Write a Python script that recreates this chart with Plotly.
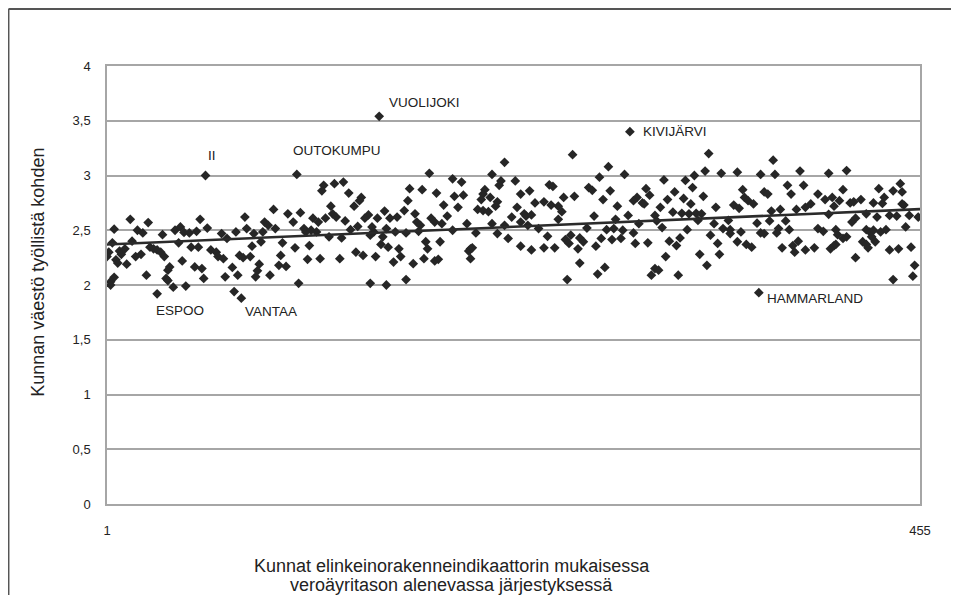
import numpy as np
import plotly.graph_objects as go

# Municipality rank (1..455) and population per employed person
rank = [
    56, 14, 24, 5, 18, 21, 32, 39, 42, 44, 47, 51, 53, 57, 4, 15, 41, 2, 8, 11, 9, 1, 20, 17, 25, 27, 29, 31, 33, 48,
    52, 6, 7, 12, 43, 36, 50, 54, 35, 23, 5, 3, 3, 34, 35, 38, 45, 55, 29,
    107, 78, 94, 102, 109, 105, 89, 91, 95, 73, 79, 83, 88, 65, 68, 111, 112, 59, 62, 63, 66, 75, 77, 81, 82, 87,
    99, 106, 98, 113, 71, 86, 97, 101, 85, 74, 67, 84, 92, 108, 72, 76,
    153, 122, 121, 128, 133, 136, 143, 142, 170, 169, 126, 139, 127, 116, 119, 123, 129, 134, 156, 152, 147, 145,
    159, 163, 167, 173, 141, 137, 149, 157, 150, 118, 115, 125, 132, 148, 155, 162, 168, 114, 154, 158, 164, 140,
    144, 151, 165, 120, 131, 161, 172, 148, 157, 168,
    181, 223, 216, 194, 199, 221, 229, 220, 177, 185, 212, 211, 195, 200, 232, 215, 210, 189, 197, 219, 218, 230,
    208, 211, 214, 191, 182, 227, 174, 176, 184, 188, 202, 216, 223, 232, 175, 194, 207, 219, 225, 179, 187, 180,
    232, 204, 203, 205, 178, 184, 186, 204,
    261, 281, 290, 276, 248, 250, 270, 272, 282, 237, 262, 256, 278, 240, 245, 249, 253, 255, 286, 234, 235, 238,
    253, 273, 285, 236, 242, 269, 280, 284, 247, 260, 257, 265, 277, 283, 288, 259, 267, 238, 245, 251, 264, 274,
    265, 279, 275, 258,
    293, 337, 335, 344, 312, 324, 329, 328, 302, 318, 304, 297, 295, 334, 314, 323, 300, 301, 327, 310, 341, 317,
    292, 307, 322, 326, 330, 333, 298, 308, 331, 340, 289, 295, 311, 325, 345, 349, 296, 303, 315, 321, 319, 338,
    342, 313, 332, 343, 336, 307, 309, 305, 320,
    373, 353, 366, 374, 388, 404, 381, 390, 356, 368, 370, 383, 357, 398, 402, 406, 359, 362, 351, 354, 394, 391,
    372, 377, 386, 404, 348, 364, 371, 380, 349, 355, 366, 376, 382, 398, 401, 375, 368, 353, 358, 361, 378, 387,
    384, 385, 391, 396, 405, 407, 365,
    414, 444, 440, 445, 432, 412, 435, 422, 410, 416, 418, 429, 434, 407, 445, 446, 425, 431, 438, 442, 449, 454,
    419, 417, 447, 408, 409, 425, 427, 429, 433, 436, 414, 412, 428, 408, 423, 425, 426, 430, 438, 443, 450, 419,
    452, 451, 440,
]
value = [
    3.00, 2.60, 2.57, 2.51, 2.50, 2.475, 2.46, 2.50, 2.53, 2.48, 2.475, 2.49, 2.60, 2.52, 2.385, 2.40, 2.385, 2.30,
    2.31, 2.33, 2.28, 2.26, 2.28, 2.26, 2.345, 2.33, 2.32, 2.30, 2.26, 2.345,
    2.345, 2.23, 2.20, 2.19, 2.22, 2.165, 2.165, 2.15, 2.135, 2.09, 2.07, 2.03, 2.00, 2.06, 2.04, 1.98, 1.99, 2.06, 1.92,
    3.01, 2.62, 2.69, 2.65, 2.66, 2.575, 2.575, 2.545, 2.515, 2.485, 2.515, 2.47, 2.485, 2.47, 2.425, 2.515, 2.485,
    2.32, 2.30, 2.26, 2.24, 2.27, 2.25, 2.26, 2.355, 2.395,
    2.385, 2.34, 2.27, 2.235, 2.16, 2.19, 2.18, 2.17, 2.13, 2.09, 2.075, 2.075, 2.09, 2.015, 1.94, 1.88,
    3.54, 2.91, 2.86, 2.925, 2.94, 2.84, 2.80, 2.77, 2.88, 2.77, 2.72, 2.72, 2.65, 2.61, 2.575, 2.61, 2.62, 2.585,
    2.675, 2.61, 2.64, 2.61,
    2.61, 2.62, 2.68, 2.65, 2.535, 2.505, 2.53, 2.515, 2.485, 2.485, 2.50, 2.44, 2.43, 2.455, 2.44, 2.485, 2.475,
    2.36, 2.37, 2.345, 2.33, 2.30,
    2.27, 2.26, 2.26, 2.24, 2.24, 2.21, 2.195, 2.015, 2.00, 2.05,
    3.02, 3.12, 3.01, 2.97, 2.94, 2.95, 2.95, 2.91, 2.87, 2.84, 2.87, 2.83, 2.81, 2.82, 2.83, 2.80, 2.78, 2.73, 2.71,
    2.76, 2.72, 2.71,
    2.69, 2.68, 2.67, 2.63, 2.61, 2.62, 2.575, 2.545, 2.575, 2.56, 2.56, 2.56, 2.545, 2.575, 2.49, 2.50, 2.475, 2.47,
    2.425, 2.395, 2.395, 2.33,
    2.355, 2.33, 2.31, 2.34, 2.24, 2.22, 2.235, 2.24,
    3.19, 3.08, 3.01, 2.985, 2.915, 2.90, 2.89, 2.865, 2.86, 2.86, 2.81, 2.80, 2.78, 2.75, 2.76, 2.73, 2.72, 2.67,
    2.72, 2.65, 2.63, 2.64,
    2.60, 2.63, 2.60, 2.545, 2.515, 2.52, 2.505, 2.515, 2.445, 2.455, 2.415, 2.43, 2.425, 2.415, 2.425, 2.38, 2.395,
    2.32, 2.34, 2.34, 2.33, 2.355,
    2.20, 2.16, 2.10, 2.05,
    3.40, 3.20, 3.04, 3.02, 2.96, 2.955, 3.00, 2.89, 2.88, 2.85, 2.82, 2.80, 2.77, 2.81, 2.78, 2.79, 2.75, 2.74, 2.74,
    2.71, 2.71, 2.665,
    2.635, 2.635, 2.655, 2.65, 2.655, 2.65, 2.56, 2.585, 2.59, 2.56, 2.50, 2.475, 2.525, 2.505, 2.515, 2.47, 2.38,
    2.385, 2.40, 2.43, 2.36, 2.455,
    2.38, 2.26, 2.28, 2.28, 2.18, 2.15, 2.135, 2.09, 2.09,
    3.14, 3.03, 3.01, 3.01, 3.04, 3.02, 2.91, 2.91, 2.87, 2.85, 2.83, 2.83, 2.80, 2.83, 2.78, 2.80, 2.77, 2.74, 2.73,
    2.70, 2.74, 2.71,
    2.675, 2.69, 2.69, 2.645, 2.59, 2.565, 2.585, 2.585, 2.505, 2.485, 2.475, 2.515, 2.505, 2.515, 2.49, 2.475, 2.47,
    2.395, 2.37, 2.345, 2.34, 2.40,
    2.36, 2.30, 2.32, 2.34, 2.33, 2.36, 1.93,
    3.045, 2.925, 2.86, 2.85, 2.88, 2.87, 2.80, 2.78, 2.77, 2.75, 2.76, 2.75, 2.745, 2.72, 2.74, 2.73, 2.65, 2.62,
    2.635, 2.63, 2.635, 2.62,
    2.61, 2.575, 2.53, 2.505, 2.46, 2.505, 2.485, 2.50, 2.485, 2.505, 2.44, 2.425, 2.44, 2.37, 2.395, 2.37, 2.34,
    2.395, 2.32, 2.33, 2.345, 2.25,
    2.18, 2.08, 2.05,
]

y_ticks = [0, 0.5, 1, 1.5, 2, 2.5, 3, 3.5, 4]
y_ticktext = ["0", "0,5", "1", "1,5", "2", "2,5", "3", "3,5", "4"]
x_ticks = [1, 455]
x_ticktext = ["1", "455"]

# Named municipalities
labels = ["VUOLIJOKI", "II", "OUTOKUMPU", "KIVIJÄRVI", "ESPOO", "VANTAA", "HAMMARLAND"]

# Linear trend line (Excel-style) fitted to the plotted points
slope, intercept = np.polyfit(rank, value, 1)
trend_x = [1, 455]
trend_y = [intercept + slope * v for v in trend_x]

FONT = "Liberation Sans, Arial, sans-serif"
GRID = "#a6a6a6"
TXT = "#222222"

fig = go.Figure()
fig.add_trace(go.Scatter(
    x=rank, y=value, mode="markers",
    marker=dict(symbol="diamond", size=7.5, color="#262626", line=dict(width=0)),
    showlegend=False, hoverinfo="x+y",
))
fig.add_trace(go.Scatter(
    x=trend_x, y=trend_y, mode="lines",
    line=dict(color="#2b2b2b", width=2.6),
    showlegend=False, hoverinfo="skip",
))

ann_font = dict(family=FONT, size=13.5, color=TXT)
annotations = [
    dict(text=labels[0], x=157.5, y=3.67, xanchor="left"),
    dict(text=labels[1], x=59.5, y=3.18, xanchor="center"),
    dict(text=labels[2], x=103.5, y=3.23, xanchor="left"),
    dict(text=labels[3], x=299, y=3.405, xanchor="left"),
    dict(text=labels[4], x=27, y=1.77, xanchor="left"),
    dict(text=labels[5], x=77, y=1.76, xanchor="left"),
    dict(text=labels[6], x=368.5, y=1.875, xanchor="left"),
]
for a in annotations:
    a.update(xref="x", yref="y", yanchor="middle", showarrow=False, font=ann_font)

title_font = dict(family=FONT, size=18, color=TXT)
annotations.append(dict(
    text="Kunnan väestö työllistä kohden", xref="paper", yref="paper",
    x=-0.085, y=0.53, textangle=-90, showarrow=False,
    xanchor="center", yanchor="middle", font=title_font,
))
annotations.append(dict(
    text="Kunnat elinkeinorakenneindikaattorin mukaisessa",
    xref="paper", yref="paper", x=0.424, y=-0.141, showarrow=False,
    xanchor="center", yanchor="middle", font=title_font,
))
annotations.append(dict(
    text="veroäyritason alenevassa järjestyksessä",
    xref="paper", yref="paper", x=0.424, y=-0.185, showarrow=False,
    xanchor="center", yanchor="middle", font=title_font,
))

shapes = [
    dict(type="line", xref="paper", yref="paper", x0=-0.1212, x1=-0.1212, y0=1.13, y1=-0.25,
         line=dict(color="#555555", width=2)),
    dict(type="line", xref="paper", yref="paper", x0=-0.1212, x1=1.1, y0=1.13, y1=1.13,
         line=dict(color="#555555", width=2)),
]

fig.update_layout(
    width=943, height=587,
    margin=dict(l=99, r=31, t=58, b=91),
    paper_bgcolor="white", plot_bgcolor="white",
    font=dict(family=FONT, size=13, color=TXT),
    annotations=annotations, shapes=shapes,
    xaxis=dict(
        range=[1, 455], tickvals=x_ticks, ticktext=x_ticktext,
        showgrid=False, zeroline=False, showline=True, mirror=True,
        linecolor=GRID, linewidth=1.5, ticks="", ticklabelstandoff=14,
        tickfont=dict(family=FONT, size=13, color=TXT),
    ),
    yaxis=dict(
        range=[0, 4], tickvals=y_ticks, ticktext=y_ticktext,
        showgrid=True, gridcolor=GRID, gridwidth=1.5, zeroline=False,
        showline=True, mirror=True, linecolor=GRID, linewidth=1.5,
        ticks="", ticklabelstandoff=12,
        tickfont=dict(family=FONT, size=13, color=TXT),
    ),
)

fig.write_html("out.html")
